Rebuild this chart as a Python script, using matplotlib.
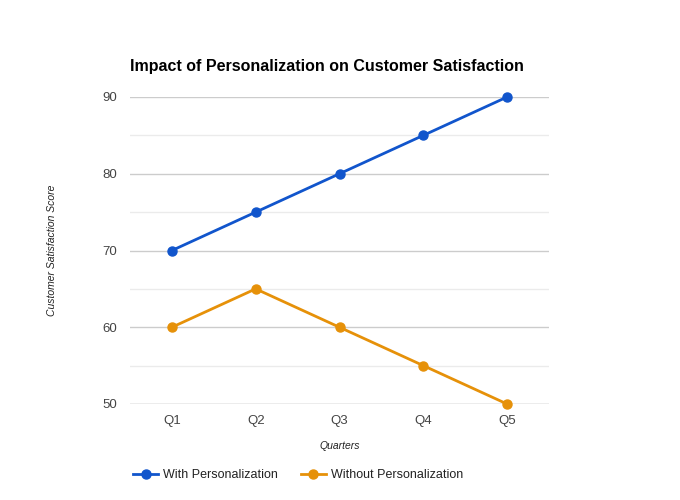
import matplotlib
matplotlib.use("Agg")
from matplotlib import pyplot as plt
from matplotlib.lines import Line2D
import numpy as np

plt.rcParams['font.family'] = ['Liberation Sans', 'DejaVu Sans']

quarters = ["Q1", "Q2", "Q3", "Q4", "Q5"]
with_personalization = [70, 75, 80, 85, 90]
without_personalization = [60, 65, 60, 55, 50]

blue = "#1155cc"
orange = "#e69109"

fig = plt.figure(figsize=(6.8, 5), dpi=100)
ax = fig.add_axes([130/680, 96/500, 419/680, 307/500])

x = np.arange(len(quarters))
ax.plot(x, with_personalization, color=blue, lw=2, marker="o", ms=6.5,
        zorder=3, clip_on=False)
ax.plot(x, without_personalization, color=orange, lw=2, marker="o", ms=6.5,
        zorder=3, clip_on=False)

ax.set_xlim(-0.5, len(quarters) - 0.5)
ax.set_ylim(50, 90)
ax.set_yticks([50, 60, 70, 80, 90])
ax.set_yticks([55, 65, 75, 85], minor=True)
ax.grid(True, axis="y", which="major", color="#cccccc", lw=1)
ax.grid(True, axis="y", which="minor", color="#ebebeb", lw=1)
ax.set_axisbelow(True)
for s in ax.spines.values():
    s.set_visible(False)
ax.tick_params(axis="both", which="both", length=0, labelsize=9.5, colors="#444444")
ax.tick_params(axis="y", pad=9)
ax.tick_params(axis="x", pad=8)
ax.set_xticks(x)
ax.set_xticklabels(quarters)
ax.axhline(50, color="#cccccc", lw=1, zorder=1)

fig.text(130/680, 1 - 66/500, "Impact of Personalization on Customer Satisfaction",
         fontsize=11.5, fontweight="bold", va="center", ha="left", color="#000000")
fig.text(52/680, 1 - 250/500, "Customer Satisfaction Score", fontsize=7.5,
         style="italic", rotation=90, va="center", ha="center", color="#222222")
fig.text(340/680, 1 - 446/500, "Quarters", fontsize=7.5, style="italic",
         va="center", ha="center", color="#222222")

handles = [
    Line2D([], [], color=blue, lw=2, marker="o", ms=6.5),
    Line2D([], [], color=orange, lw=2, marker="o", ms=6.5),
]
fig.legend(handles, ["With Personalization", "Without Personalization"],
           loc="center left", bbox_to_anchor=(122/680, 1 - 475/500), ncol=2,
           frameon=False, fontsize=9, handlelength=2.0, handletextpad=0.4,
           columnspacing=1.8, labelcolor="#222222")

plt.savefig("out.png", dpi=100)
plt.close()
